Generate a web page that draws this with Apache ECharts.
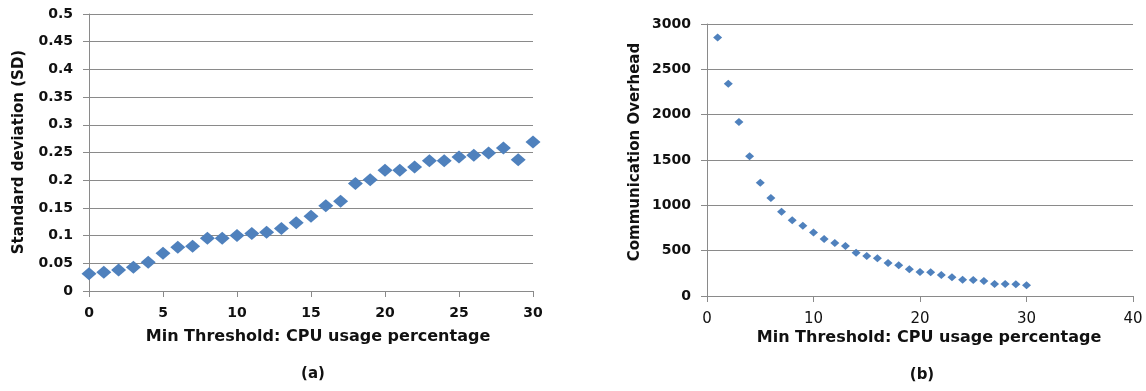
<!DOCTYPE html>
<html>
<head>
<meta charset="utf-8">
<script src="https://cdn.jsdelivr.net/npm/echarts@6/dist/echarts.min.js"></script>
<style>
html,body{margin:0;padding:0;background:#fff;}
#chart{width:1146px;height:391px;}
</style>
</head>
<body>
<div id="chart"></div>
<script>
// Chart (a): Standard deviation vs min threshold
const sdThresholds = [0,1,2,3,4,5,6,7,8,9,10,11,12,13,14,15,16,17,18,19,20,21,22,23,24,25,26,27,28,29,30];
const sdValues = [0.031,0.034,0.038,0.043,0.052,0.068,0.079,0.081,0.095,0.095,0.100,0.104,0.106,0.113,0.123,0.135,0.154,0.162,0.194,0.201,0.218,0.218,0.224,0.235,0.235,0.242,0.245,0.249,0.258,0.237,0.269];
// Chart (b): Communication overhead vs min threshold
const ohThresholds = [1,2,3,4,5,6,7,8,9,10,11,12,13,14,15,16,17,18,19,20,21,22,23,24,25,26,27,28,29,30];
const ohValues = [2850,2340,1920,1540,1250,1080,930,835,776,699,629,585,551,478,441,416,364,339,294,265,262,232,206,180,176,165,132,132,130,118];

const xTitle = 'Min Threshold: CPU usage percentage';
const yTitleA = 'Standard deviation (SD)';
const yTitleB = 'Communication Overhead';
const captionA = '(a)';
const captionB = '(b)';

const FONT = 'DejaVu Sans';
const BLUE = '#4F81BD';
const GRID = '#8a8a8a';
const TXT = '#111';

const chart = echarts.init(document.getElementById('chart'));

function axisCommon() {
  return {
    axisLine: {show: true, lineStyle: {color: GRID, width: 1}},
    axisTick: {show: true, length: 6, lineStyle: {color: GRID}},
    splitLine: {show: false},
  };
}

chart.setOption({
  animation: false,
  backgroundColor: '#fff',
  grid: [
    {left: 89, top: 14, right: 613, bottom: 100, containLabel: false},
    {left: 707, top: 24, right: 13, bottom: 95, containLabel: false}
  ],
  xAxis: [
    Object.assign(axisCommon(), {
      type: 'value', gridIndex: 0, min: 0, max: 30, interval: 5,
      axisLabel: {fontFamily: FONT, fontWeight: 'bold', fontSize: 14, color: TXT, margin: 15}
    }),
    Object.assign(axisCommon(), {
      type: 'value', gridIndex: 1, min: 0, max: 40, interval: 10,
      axisLabel: {fontFamily: FONT, fontWeight: 'normal', fontSize: 15, color: TXT, margin: 16}
    })
  ],
  yAxis: [
    Object.assign(axisCommon(), {
      type: 'value', gridIndex: 0, min: 0, max: 0.5, interval: 0.05,
      splitLine: {show: true, lineStyle: {color: GRID, width: 1}},
      axisLabel: {fontFamily: FONT, fontWeight: 'bold', fontSize: 14, color: TXT, margin: 16,
        formatter: v => String(+v.toFixed(2))}
    }),
    Object.assign(axisCommon(), {
      type: 'value', gridIndex: 1, min: 0, max: 3000, interval: 500,
      splitLine: {show: true, lineStyle: {color: GRID, width: 1}},
      axisLabel: {fontFamily: FONT, fontWeight: 'bold', fontSize: 14, color: TXT, margin: 16,
        formatter: v => String(v)}
    })
  ],
  series: [
    {
      type: 'scatter', xAxisIndex: 0, yAxisIndex: 0,
      symbol: 'diamond', symbolSize: [15, 13],
      itemStyle: {color: BLUE, opacity: 1},
      data: sdThresholds.map((x, i) => [x, sdValues[i]])
    },
    {
      type: 'scatter', xAxisIndex: 1, yAxisIndex: 1,
      symbol: 'diamond', symbolSize: [9, 8],
      itemStyle: {color: BLUE, opacity: 1},
      data: ohThresholds.map((x, i) => [x, ohValues[i]])
    }
  ],
  graphic: [
    {type: 'text', x: 19, y: 152, rotation: Math.PI / 2,
      style: {text: yTitleA, font: 'bold 15px "DejaVu Sans"', fill: TXT, align: 'center', verticalAlign: 'middle'}},
    {type: 'text', x: 635, y: 152, rotation: Math.PI / 2,
      style: {text: yTitleB, font: 'bold 15px "DejaVu Sans"', fill: TXT, align: 'center', verticalAlign: 'middle'}},
    {type: 'text', x: 318, y: 337,
      style: {text: xTitle, font: 'bold 16px "DejaVu Sans"', fill: TXT, align: 'center', verticalAlign: 'middle'}},
    {type: 'text', x: 929, y: 338,
      style: {text: xTitle, font: 'bold 16px "DejaVu Sans"', fill: TXT, align: 'center', verticalAlign: 'middle'}},
    {type: 'text', x: 313, y: 374,
      style: {text: captionA, font: 'bold 15px "DejaVu Sans"', fill: TXT, align: 'center', verticalAlign: 'middle'}},
    {type: 'text', x: 922, y: 375,
      style: {text: captionB, font: 'bold 15px "DejaVu Sans"', fill: TXT, align: 'center', verticalAlign: 'middle'}}
  ]
});
</script>
</body>
</html>
